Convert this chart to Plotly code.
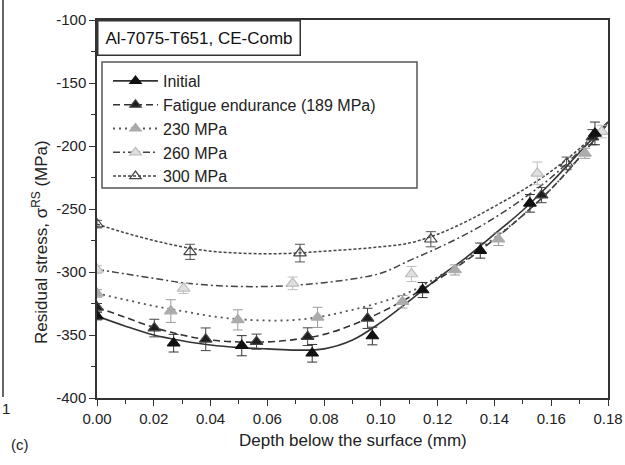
import plotly.graph_objects as go

# ---------------- data ----------------
series_names = ["Initial", "Fatigue endurance (189 MPa)", "230 MPa", "260 MPa", "300 MPa"]

# measured points (depth mm, stress MPa, error MPa)
init_x = [0.000, 0.027, 0.051, 0.0758, 0.097, 0.1147, 0.135, 0.1525, 0.1754]
init_y = [-335, -356.5, -358.5, -364.5, -350.8, -314.3, -283, -245.5, -190]
init_e = [3, 7, 8, 7, 7, 6, 6, 7, 9]

fat_x = [0.000, 0.0202, 0.0383, 0.0562, 0.0742, 0.0953, 0.1566, 0.1745]
fat_y = [-328, -344.5, -353.4, -355.3, -351.3, -336.8, -239, -193]
fat_e = [3, 7, 9, 6, 7, 8, 6, 6]

s230_x = [0.000, 0.026, 0.0496, 0.0777, 0.1076, 0.1261, 0.1414, 0.1719]
s230_y = [-317, -331, -338, -336, -323.6, -298.4, -274, -205.8]
s230_e = [3, 9, 8, 8, 5, 4, 5, 4]

s260_x = [0.000, 0.0305, 0.0689, 0.1108, 0.1551, 0.1778]
s260_y = [-298, -313, -309, -301.6, -221.7, -188.6]
s260_e = [3, 4, 5, 6, 9, 5]

s300_x = [0.000, 0.0328, 0.0715, 0.1176, 0.1654]
s300_y = [-262, -284, -285, -274, -213.8]
s300_e = [3, 6, 7, 6, 5]

# fitted curves
curve_x = [0.00, 0.01, 0.02, 0.03, 0.04, 0.05, 0.06, 0.07, 0.08, 0.09,
           0.10, 0.11, 0.12, 0.13, 0.14, 0.15, 0.16, 0.17, 0.18]
init_fit = [-335, -343, -350, -354.5, -358, -360, -361, -362, -361, -354,
            -340, -323, -305, -288.5, -270, -251, -229, -205, -181]
fat_fit = [-328, -336, -344, -350, -354, -355.5, -355.5, -353.5, -349.5, -342,
           -332, -320, -306, -291, -274, -255, -234, -209, -182]
s230_fit = [-317, -322, -327, -331, -335, -337.5, -338.5, -338, -335, -330,
            -324, -316, -304, -290, -273, -255, -234, -209, -182]
s260_fit = [-298, -301.5, -305, -308.5, -310.5, -311.5, -311.5, -310.5, -308.5, -305.5,
            -301, -291, -281, -270, -257, -242, -225, -204, -181]
s300_fit = [-262, -269, -275, -280, -283.5, -285, -285.5, -285, -283.5, -282,
            -280, -277, -270, -260, -248, -235, -220, -202, -181]

x_ticks = [0.00, 0.02, 0.04, 0.06, 0.08, 0.10, 0.12, 0.14, 0.16, 0.18]
x_ticklabels = ["0.00", "0.02", "0.04", "0.06", "0.08", "0.10", "0.12", "0.14", "0.16", "0.18"]
y_ticks = [-400, -350, -300, -250, -200, -150, -100]
y_ticklabels = ["-400", "-350", "-300", "-250", "-200", "-150", "-100"]

# ---------------- layout constants (pixels) ----------------
W, H = 625, 465
L, R, T, B = 97, 17, 20, 67
PW, PH = W - L - R, H - T - B


def px_x(x):
    return (x - L) / PW


def px_y(y):
    return (H - B - y) / PH


FONT = "Arial, Liberation Sans, sans-serif"
styles = [
    dict(sym="triangle-up", fill="#111111", mline="#111111", err="#333333",
         lcol="#333333", dash="solid", lw=1.6),
    dict(sym="triangle-up", fill="#1e1e1e", mline="#444444", err="#444444",
         lcol="#333333", dash="7px,4px", lw=1.6),
    dict(sym="triangle-up", fill="#ababab", mline="#ababab", err="#9a9a9a",
         lcol="#555555", dash="2px,4px", lw=1.8),
    dict(sym="triangle-up", fill="#e0e0e0", mline="#bdbdbd", err="#bdbdbd",
         lcol="#444444", dash="7px,3px,2px,3px", lw=1.5),
    dict(sym="triangle-up-open", fill="#444444", mline="#444444", err="#555555",
         lcol="#444444", dash="3px,2px", lw=1.5),
]

pts = [(init_x, init_y, init_e), (fat_x, fat_y, fat_e), (s230_x, s230_y, s230_e),
       (s260_x, s260_y, s260_e), (s300_x, s300_y, s300_e)]
fits = [init_fit, fat_fit, s230_fit, s260_fit, s300_fit]

fig = go.Figure()

for fy, st in zip(fits, styles):
    fig.add_trace(go.Scatter(x=curve_x, y=fy, mode="lines", showlegend=False,
                             line=dict(color=st["lcol"], dash=st["dash"], width=st["lw"],
                                       shape="spline", smoothing=1.0),
                             hoverinfo="skip"))

for (px, py, pe), st in reversed(list(zip(pts, styles))):
    fig.add_trace(go.Scatter(x=px, y=py, mode="markers", showlegend=False,
                             marker=dict(symbol=st["sym"], size=11, color=st["fill"],
                                         line=dict(color=st["mline"], width=1.2)),
                             error_y=dict(type="data", array=pe, visible=True,
                                          color=st["err"], thickness=1, width=5)))

for name, st in zip(series_names, styles):
    fig.add_trace(go.Scatter(x=[None], y=[None], mode="lines+markers", name=name,
                             marker=dict(symbol=st["sym"], size=10, color=st["fill"],
                                         line=dict(color=st["mline"], width=1.2)),
                             line=dict(color=st["lcol"], dash=st["dash"], width=st["lw"])))

axis_common = dict(showline=True, linecolor="#333333", linewidth=1.5, mirror=True,
                   ticks="outside", tickcolor="#333333", tickwidth=1.2, ticklen=6,
                   showgrid=False, zeroline=False, automargin=False,
                   tickfont=dict(family=FONT, size=15, color="#222222"))

fig.update_layout(
    width=W, height=H,
    margin=dict(l=L, r=R, t=T, b=B, autoexpand=False),
    paper_bgcolor="white", plot_bgcolor="white",
    font=dict(family=FONT, color="#222222"),
    xaxis=dict(range=[0, 0.18], tickmode="array", tickvals=x_ticks, ticktext=x_ticklabels,
               minor=dict(dtick=0.01, ticks="outside", ticklen=4, tickcolor="#333333"),
               **axis_common),
    yaxis=dict(range=[-400, -100], tickmode="array", tickvals=y_ticks, ticktext=y_ticklabels,
               minor=dict(dtick=25, ticks="outside", ticklen=4, tickcolor="#333333"),
               **axis_common),
    legend=dict(x=px_x(108), y=px_y(64), xanchor="left", yanchor="top",
                bgcolor="rgba(0,0,0,0)", borderwidth=0, itemwidth=45,
                font=dict(family=FONT, size=16, color="#222222"),
                tracegroupgap=0),
    showlegend=True,
)

# legend frame
fig.add_shape(type="rect", xref="paper", yref="paper", layer="below",
              x0=px_x(102), x1=px_x(417), y0=px_y(188), y1=px_y(62),
              line=dict(color="#555555", width=1.5), fillcolor="white")

# label box
fig.add_annotation(xref="paper", yref="paper", x=0, y=1, xanchor="left", yanchor="top",
                   text="Al-7075-T651, CE-Comb", showarrow=False,
                   font=dict(family=FONT, size=17, color="#111111"),
                   bordercolor="#333333", borderwidth=1.5, borderpad=7, bgcolor="white")

# axis titles
fig.add_annotation(xref="paper", yref="paper", x=px_x(353), y=px_y(440),
                   xanchor="center", yanchor="middle", showarrow=False,
                   text="Depth below the surface (mm)",
                   font=dict(family=FONT, size=17, color="#222222"))
fig.add_annotation(xref="paper", yref="paper", x=px_x(40), y=px_y(242),
                   xanchor="center", yanchor="middle", textangle=-90, showarrow=False,
                   text="Residual stress, σ<sup>RS</sup> (MPa)",
                   font=dict(family=FONT, size=17, color="#222222"))

# neighbouring-panel remnants
fig.add_shape(type="line", xref="paper", yref="paper", x0=px_x(3), x1=px_x(3),
              y0=px_y(397), y1=px_y(0), line=dict(color="#333333", width=1.5))
fig.add_annotation(xref="paper", yref="paper", x=px_x(6), y=px_y(408),
                   xanchor="center", yanchor="middle",
                   text="1", showarrow=False, font=dict(family=FONT, size=15, color="#222222"))
fig.add_annotation(xref="paper", yref="paper", x=px_x(20), y=px_y(444),
                   xanchor="center", yanchor="middle",
                   text="(c)", showarrow=False, font=dict(family=FONT, size=15, color="#222222"))

fig.write_html("out.html", config={"displayModeBar": False},
               post_script="document.body.style.margin='0px';document.body.style.padding='0px';")
